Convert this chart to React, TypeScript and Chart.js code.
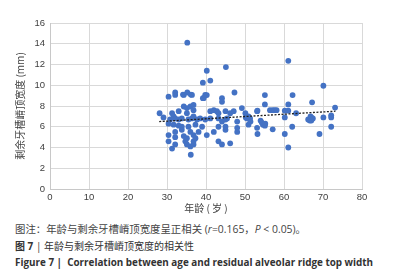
import React, { useEffect, useRef } from "react";
import { Chart, registerables } from "chart.js";

Chart.register(...registerables);

// Age (years) of each subject
const ages: number[] = [
  28.1, 29.1, 30.4, 30.4, 30.4, 30.4, 30.8, 31.3, 31.3, 31.7, 31.7,
  32.1, 32.1, 32.1, 32.1, 32.1, 32.1, 33.0, 33.0, 33.0, 33.8, 33.8, 33.8,
  34.1, 34.3, 34.3, 34.3, 34.7, 35.1, 35.1, 35.1, 35.1, 35.2, 35.2, 35.5, 35.5,
  36.0, 36.0, 36.0, 36.1, 36.1, 36.4, 36.4, 36.8, 36.8, 36.8, 36.8, 36.8, 36.8,
  37.3, 37.3, 37.7, 38.1, 38.5, 39.0, 39.2, 39.2, 39.4, 39.8, 39.8,
  40.2, 40.2, 40.2, 41.1, 41.1, 41.1, 42.0, 42.0, 42.8, 43.2, 43.2, 43.2, 43.2,
  44.1, 44.1, 44.1, 44.1, 45.0, 45.0, 45.0, 45.0, 45.1, 45.4, 46.2, 46.2,
  47.1, 47.3, 48.0, 48.0, 48.0, 49.2, 50.1, 50.2, 50.5, 50.9, 50.9, 51.3, 51.4,
  53.1, 53.1, 53.2, 53.2, 54.0, 54.3, 54.6, 55.1, 55.1, 55.1, 55.2,
  56.4, 57.1, 57.1, 57.6, 58.1, 60.2, 60.2, 60.2, 61.1, 61.1, 61.1, 61.1,
  62.1, 62.2, 63.1, 66.2, 66.6, 66.8, 67.0, 67.0, 67.2, 67.4,
  69.1, 70.1, 70.1, 72.1, 72.1, 72.1, 73.1,
];

// Residual alveolar ridge top width (mm)
const widths: number[] = [
  7.3, 6.9, 8.9, 5.2, 4.6, 6.3, 6.7, 7.3, 3.9, 7.0, 6.2,
  9.3, 9.07, 6.8, 5.5, 5.0, 4.3, 7.5, 6.7, 6.1, 6.8, 6.0, 5.7,
  9.1, 9.07, 7.95, 5.1, 4.6, 7.8, 7.3, 4.9, 4.3, 14.1, 9.3, 6.7, 6.0,
  7.95, 5.5, 4.1, 9.1, 3.3, 9.07, 6.8, 8.1, 7.6, 7.0, 5.2, 4.6, 4.3,
  6.2, 4.9, 6.7, 5.5, 6.8, 6.0, 10.25, 8.75, 8.75, 9.07, 6.7,
  11.4, 9.05, 5.2, 10.45, 7.5, 6.8, 7.6, 5.5, 7.5, 7.3, 6.8, 6.0, 4.6,
  8.75, 8.4, 6.5, 4.3, 7.5, 6.7, 6.0, 5.7, 11.75, 6.8, 7.3, 4.4,
  7.5, 9.3, 6.5, 5.9, 5.5, 7.8, 7.3, 6.9, 6.8, 7.0, 6.2, 6.8, 6.5,
  7.5, 5.9, 7.55, 5.3, 6.6, 6.4, 6.2, 9.05, 8.15, 6.1, 6.3,
  7.6, 7.6, 5.75, 7.6, 7.6, 7.55, 6.9, 5.3, 12.35, 7.55, 8.15, 4.0,
  6.0, 9.05, 7.3, 6.7, 6.6, 7.0, 6.9, 6.6, 8.35, 6.8,
  5.3, 9.95, 6.9, 7.1, 6.9, 6.0, 7.85,
];

// Linear trend line end points (age, width)
const trendAges: number[] = [28, 73.2];
const trendWidths: number[] = [6.5, 7.5];

const xTicks: number[] = [0, 10, 20, 30, 40, 50, 60, 70, 80];
const yTicks: number[] = [0, 2, 4, 6, 8, 10, 12, 14, 16];

const xTitle = "年龄 ( 岁 )";
const yTitle = "剩余牙槽嵴顶宽度 (mm)";

const W = 413;
const CH = 218;

export default function App() {
  const ref = useRef<HTMLCanvasElement | null>(null);

  useEffect(() => {
    const canvas = ref.current;
    if (!canvas) return;
    const points = ages.map((a, i) => ({ x: a, y: widths[i] }));
    const trend = trendAges.map((a, i) => ({ x: a, y: trendWidths[i] }));
    const tickFont = { family: "'Liberation Sans', Arial, sans-serif", size: 9.5 };
    const titleFont = { family: "'Noto Sans CJK SC', sans-serif", size: 10, lineHeight: 1.2 };
    const chart = new Chart(canvas, {
      type: "scatter",
      data: {
        datasets: [
          {
            type: "line",
            data: trend,
            borderColor: "#222222",
            borderWidth: 1.3,
            borderDash: [2, 1.5],
            pointRadius: 0,
            fill: false,
            order: 0,
          } as any,
          {
            data: points,
            backgroundColor: "#4472C4",
            borderWidth: 0,
            pointRadius: 2.9,
            order: 1,
          },
        ],
      },
      options: {
        responsive: false,
        animation: false,
        devicePixelRatio: 1,
        layout: { padding: { left: 0, top: 23, right: 51, bottom: 0 } },
        plugins: { legend: { display: false }, tooltip: { enabled: false } },
        scales: {
          x: {
            type: "linear",
            min: 0,
            max: 80,
            afterBuildTicks: (s: any) => {
              s.ticks = xTicks.map((v) => ({ value: v }));
            },
            afterFit: (s: any) => {
              s.height = 29;
            },
            ticks: { font: tickFont, color: "#404040", padding: 3, maxRotation: 0 },
            grid: { color: "#d9d9d9", drawTicks: false, lineWidth: 1 },
            border: { color: "#c8c8c8" },
            title: {
              display: true,
              text: xTitle,
              font: titleFont,
              color: "#404040",
              padding: { top: 0, bottom: 4 },
            },
          },
          y: {
            type: "linear",
            min: 0,
            max: 16,
            afterBuildTicks: (s: any) => {
              s.ticks = yTicks.map((v) => ({ value: v }));
            },
            afterFit: (s: any) => {
              s.width = 50;
            },
            ticks: { font: tickFont, color: "#404040", padding: 5 },
            grid: { color: "#d9d9d9", drawTicks: false, lineWidth: 1 },
            border: { color: "#c8c8c8" },
            title: {
              display: true,
              text: yTitle,
              font: titleFont,
              color: "#404040",
              padding: { top: 14, bottom: 0 },
            },
          },
        },
      },
    });
    return () => chart.destroy();
  }, []);

  const capFont = "'Open Sans', 'Noto Sans CJK SC', sans-serif";
  return (
    <div style={{ position: "absolute", left: 0, top: 0, width: W, height: 278, background: "#fff", overflow: "hidden" }}>
      <canvas ref={ref} width={W} height={CH} style={{ position: "absolute", left: 0, top: 0, width: W, height: CH }} />
      <div style={{ position: "absolute", left: 15, top: 223, fontFamily: capFont, fontSize: 10.4, lineHeight: "12px", color: "#444", whiteSpace: "nowrap" }}>
        图注：年龄与剩余牙槽嵴顶宽度呈正相关 (<i>r</i>=0.165，<i>P</i> &lt; 0.05)。
      </div>
      <div style={{ position: "absolute", left: 15, top: 240, fontFamily: capFont, fontSize: 10, lineHeight: "12px", color: "#333", whiteSpace: "nowrap" }}>
        <b>图 7</b> | 年龄与剩余牙槽嵴顶宽度的相关性
      </div>
      <div style={{ position: "absolute", left: 15, top: 256, fontFamily: capFont, fontSize: 9.9, fontWeight: 700, lineHeight: "13px", color: "#333", whiteSpace: "nowrap" }}>
        Figure 7 | &nbsp;Correlation between age and residual alveolar ridge top width
      </div>
    </div>
  );
}
